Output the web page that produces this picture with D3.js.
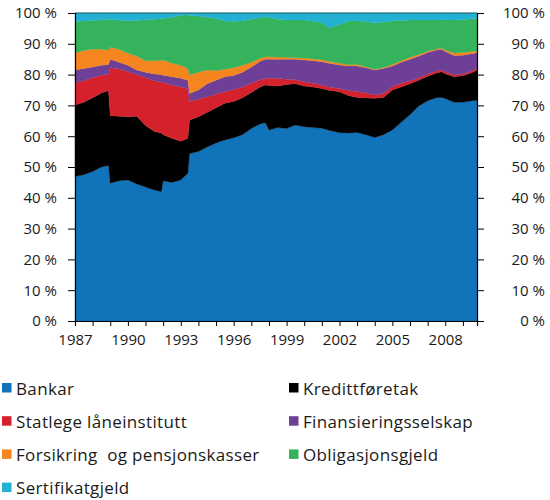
<!DOCTYPE html>
<html lang="nn">
<head>
    <meta charset="UTF-8">
    <title>Gjeld fordelt på kjelder</title>
    <script src="https://d3js.org/d3.v7.min.js"></script>
    <style>
        body { margin: 0; background: #fff; }
        text { font-family: "Open Sans", sans-serif; fill: #1a1a1a; }
    </style>
</head>
<body>
    <div id="chart"></div>
    <script>
        // time points (decimal years) and share (%) of each source
        const dates = [1987.0, 1987.5, 1988.0, 1988.5, 1988.9, 1989.0, 1989.5, 1990.0, 1990.5, 1991.0,
            1991.5, 1991.9, 1992.0, 1992.5, 1993.0, 1993.4, 1993.5, 1994.0, 1994.5, 1995.0,
            1995.5, 1996.0, 1996.5, 1997.0, 1997.5, 1997.8, 1998.0, 1998.5, 1999.0, 1999.5,
            2000.0, 2000.5, 2001.0, 2001.4, 2002.0, 2002.5, 2003.0, 2003.5, 2004.0, 2004.5,
            2005.0, 2005.5, 2006.0, 2006.5, 2007.0, 2007.5, 2007.8, 2008.0, 2008.5, 2009.0,
            2009.5, 2009.8];

        const bankar = [46.9, 47.5, 48.5, 50.0, 50.5, 44.7, 45.5, 45.8, 44.5, 43.5,
            42.5, 42.0, 45.5, 45.0, 45.8, 48.0, 54.4, 55.0, 56.5, 57.8,
            58.8, 59.5, 60.5, 62.5, 64.0, 64.4, 62.0, 62.8, 62.5, 63.6,
            63.1, 62.8, 62.6, 61.9, 61.1, 61.0, 61.2, 60.5, 59.6, 60.5,
            62.0, 64.5, 67.0, 69.8, 71.5, 72.5, 72.6, 72.2, 71.0, 71.0,
            71.5, 71.6];
        const kreditt = [23.2, 23.5, 24.0, 24.0, 24.3, 21.9, 21.0, 20.5, 22.0, 20.0,
            19.0, 19.0, 15.0, 14.3, 12.6, 11.3, 10.9, 11.3, 11.3, 11.4,
            11.9, 11.8, 12.0, 11.7, 12.0, 12.2, 14.5, 13.5, 14.3, 13.4,
            13.2, 13.2, 12.9, 13.0, 13.3, 12.2, 11.4, 11.9, 12.7, 12.1,
            13.0, 11.5, 10.0, 8.4, 8.0, 8.0, 8.3, 8.1, 8.3, 8.6,
            9.1, 9.9];
        const statlege = [7.3, 7.0, 6.5, 5.8, 5.4, 15.7, 15.3, 14.7, 13.5, 15.5,
            16.5, 16.6, 16.9, 17.3, 17.6, 16.2, 5.9, 5.7, 5.0, 4.4,
            3.8, 3.9, 3.5, 3.0, 2.3, 2.2, 2.3, 2.5, 1.7, 1.3,
            1.4, 1.2, 1.1, 1.1, 1.1, 1.6, 1.9, 1.6, 1.1, 1.3,
            1.1, 1.2, 1.0, 0.8, 0.7, 0.7, 0.6, 0.7, 0.6, 0.6,
            0.6, 0.5];
        const finansiering = [4.1, 4.0, 3.5, 3.2, 3.1, 2.7, 2.2, 2.0, 1.5, 1.8,
            2.2, 2.4, 2.4, 2.7, 2.8, 2.7, 2.7, 3.0, 4.2, 4.6,
            4.8, 4.5, 4.8, 5.3, 6.0, 6.2, 6.2, 6.2, 6.5, 6.7,
            7.0, 7.3, 7.6, 7.7, 7.6, 8.0, 8.3, 8.2, 8.1, 8.1,
            6.7, 6.8, 7.0, 7.0, 7.0, 6.8, 6.7, 6.5, 6.3, 6.1,
            5.6, 5.1];
        const forsikring = [5.6, 5.8, 5.7, 5.2, 4.7, 3.9, 4.2, 3.9, 4.5, 3.7,
            4.3, 4.6, 4.9, 4.4, 4.2, 3.8, 6.0, 5.8, 4.5, 3.1,
            2.4, 2.5, 2.2, 1.5, 1.0, 0.8, 0.8, 0.7, 0.6, 0.5,
            0.7, 0.6, 0.6, 0.6, 0.6, 0.4, 0.5, 0.3, 0.2, 0.3,
            0.5, 0.5, 0.6, 0.5, 0.4, 0.3, 0.4, 0.5, 0.8, 0.9,
            0.7, 0.5];
        const obligasjon = [10.1, 9.6, 9.4, 9.6, 9.9, 9.0, 9.5, 10.6, 11.6, 13.3,
            13.5, 13.5, 13.5, 14.9, 16.2, 17.4, 19.3, 18.2, 17.1, 16.9,
            15.7, 15.0, 14.5, 14.0, 13.2, 13.0, 12.7, 12.3, 12.1, 12.2,
            12.3, 12.2, 12.1, 10.9, 12.5, 14.1, 14.2, 14.7, 15.1, 14.7,
            14.2, 13.1, 12.1, 11.2, 10.1, 9.4, 9.2, 9.7, 10.7, 10.6,
            10.6, 10.7];
        const sertifikat = [2.8, 2.6, 2.4, 2.2, 2.1, 2.1, 2.3, 2.5, 2.4, 2.2,
            2.0, 1.9, 1.8, 1.4, 0.8, 0.6, 0.8, 1.0, 1.4, 1.8,
            2.6, 2.8, 2.5, 2.0, 1.5, 1.2, 1.5, 2.0, 2.3, 2.3,
            2.3, 2.7, 3.1, 4.8, 3.8, 2.7, 2.5, 2.8, 3.2, 3.0,
            2.5, 2.4, 2.3, 2.3, 2.3, 2.3, 2.2, 2.3, 2.3, 2.2,
            1.9, 1.7];

        const seriesNames = ["Bankar", "Kredittføretak", "Statlege låneinstitutt", "Finansieringsselskap",
            "Forsikring  og pensjonskasser", "Obligasjonsgjeld", "Sertifikatgjeld"];
        const seriesValues = [bankar, kreditt, statlege, finansiering, forsikring, obligasjon, sertifikat];
        const colors = ["#1173ba", "#000000", "#d4212c", "#6d3f96", "#f5861f", "#34b25c", "#22b0d3"];

        const yTicks = [0, 10, 20, 30, 40, 50, 60, 70, 80, 90, 100];
        const yearLabels = [1987, 1990, 1993, 1996, 1999, 2002, 2005, 2008];

        const W = 550, H = 500;
        const margin = { top: 13, right: 73, bottom: 179, left: 75 };
        const width = W - margin.left - margin.right;
        const height = H - margin.top - margin.bottom;

        const svg = d3.select("#chart")
            .append("svg")
            .attr("width", W)
            .attr("height", H);

        const g = svg.append("g")
            .attr("transform", `translate(${margin.left},${margin.top})`);

        const rows = dates.map((d, i) => {
            const r = { date: d };
            seriesNames.forEach((name, j) => { r[name] = seriesValues[j][i]; });
            return r;
        });

        const stack = d3.stack()
            .keys(seriesNames)
            .offset(d3.stackOffsetExpand);
        const layers = stack(rows);

        const x = d3.scaleLinear()
            .domain([1987, 2009.8])
            .range([0, width]);

        const y = d3.scaleLinear()
            .domain([0, 1])
            .range([height, 0]);

        const area = d3.area()
            .x(d => x(d.data.date))
            .y0(d => y(d[0]))
            .y1(d => y(d[1]));

        g.selectAll("path.layer")
            .data(layers)
            .join("path")
            .attr("class", "layer")
            .attr("d", area)
            .attr("fill", (d, i) => colors[i])
            .attr("stroke", (d, i) => colors[i])
            .attr("stroke-width", 0.3);

        // top edge of the plot
        g.append("line")
            .attr("x1", 0).attr("x2", width)
            .attr("y1", 0).attr("y2", 0)
            .attr("stroke", "#1f5d6c")
            .attr("stroke-width", 1);

        // left axis
        const leftAxis = g.append("g")
            .call(d3.axisLeft(y).tickValues(yTicks.map(v => v / 100))
                .tickFormat(d => Math.round(d * 100) + " %")
                .tickSize(7).tickPadding(11));
        leftAxis.select(".domain").attr("stroke", "#000").attr("stroke-width", 1.2);
        leftAxis.selectAll("text").style("font-size", "15px");

        // right axis, labels right aligned
        const rightAxis = g.append("g")
            .attr("transform", `translate(${width},0)`)
            .call(d3.axisRight(y).tickValues(yTicks.map(v => v / 100))
                .tickFormat(d => Math.round(d * 100) + " %")
                .tickSize(7));
        rightAxis.select(".domain").attr("stroke", "#000").attr("stroke-width", 1.2);
        rightAxis.selectAll("text")
            .attr("x", W - margin.left - width - 5)
            .attr("text-anchor", "end")
            .style("font-size", "15px");

        // bottom axis: yearly minor ticks
        const bottomAxis = g.append("g")
            .attr("transform", `translate(0,${height})`)
            .call(d3.axisBottom(x).tickValues(d3.range(1987, 2010))
                .tickFormat(d => yearLabels.includes(d) ? d : "")
                .tickSize(5).tickPadding(8));
        bottomAxis.select(".domain").attr("stroke", "#000").attr("stroke-width", 1.2);
        bottomAxis.selectAll("text").style("font-size", "15px");
        svg.selectAll(".tick line").attr("stroke", "#000");
        svg.selectAll(".tick text").attr("fill", "#1a1a1a");

        // legend, two columns
        const legend = svg.append("g");
        const item = legend.selectAll("g")
            .data(seriesNames)
            .join("g")
            .attr("transform", (d, i) => `translate(${i % 2 === 0 ? 2 : 289},${383 + Math.floor(i / 2) * 33.2})`);
        item.append("rect")
            .attr("width", 9.5).attr("height", 9.5)
            .attr("fill", (d, i) => colors[i]);
        item.append("text")
            .attr("x", 14)
            .attr("y", 11.5)
            .style("font-size", "17px")
            .style("letter-spacing", "0.35px")
            .style("white-space", "pre")
            .attr("xml:space", "preserve")
            .text(d => d);
    </script>
</body>
</html>
